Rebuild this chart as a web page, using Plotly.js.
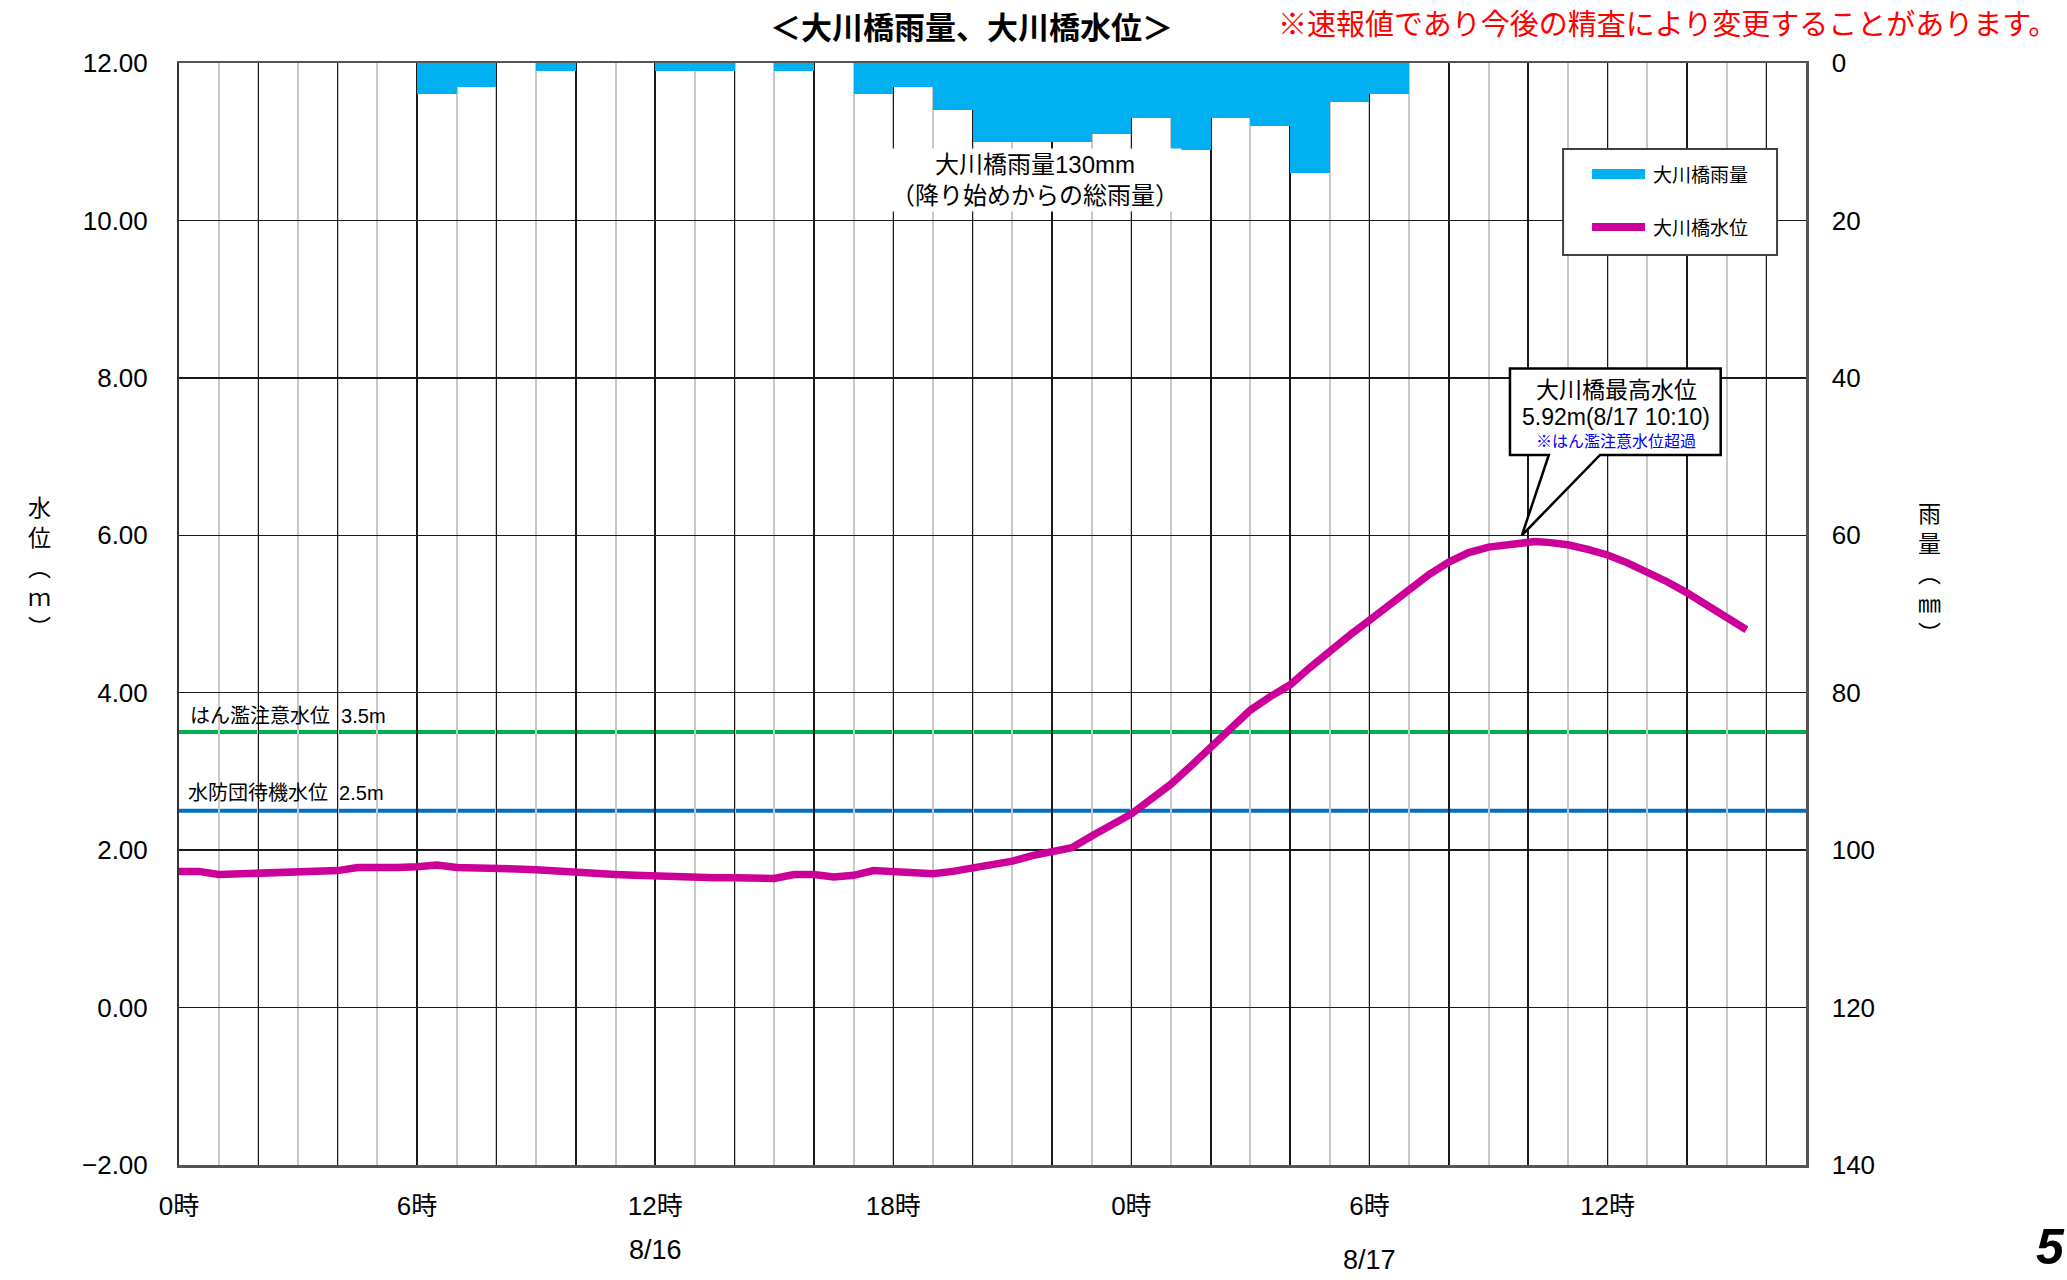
<!DOCTYPE html>
<html>
<head>
<meta charset="utf-8">
<script src="https://cdn.plot.ly/plotly-3.0.1.min.js"></script>
<style>
  html, body { margin: 0; padding: 0; background: #ffffff; }
  #chart { width: 2067px; height: 1280px; }
</style>
</head>
<body>
<div id="chart"></div>
<script>
// ---------- data ----------
// hours counted from 8/16 0:00
const rainHours = [0,1,2,3,4,5,6,7,8,9,10,11,12,13,14,15,16,17,18,19,20,21,22,23,24,25,26,27,28,29,30,31,32,33,34,35,36,37,38,39,40];
const rainValues = [0,0,0,0,0,0,4,3,0,1,0,0,1,1,0,1,0,4,3,6,10,10,10,9,7,11,7,8,14,5,4,0,0,0,0,0,0,0,0,0,0];

const levelHours = [0,0.5,1,1.5,2,2.5,3,3.5,4,4.5,5,5.5,6,6.5,7,7.5,8,8.5,9,9.5,10,10.5,11,11.5,12,12.5,13,13.5,14,14.5,15,15.5,16,16.5,17,17.5,18,18.5,19,19.5,20,20.5,21,21.5,22,22.5,23,23.5,24,24.5,25,25.5,26,26.5,27,27.5,28,28.5,29,29.5,30,30.5,31,31.5,32,32.5,33,33.5,34,34.1667,34.5,35,35.5,36,36.5,37,37.5,38,38.5,39,39.5];
const levelValues = [1.73,1.73,1.69,1.70,1.71,1.72,1.73,1.73,1.74,1.78,1.77,1.78,1.79,1.81,1.78,1.78,1.77,1.76,1.75,1.73,1.71,1.70,1.69,1.68,1.67,1.66,1.64,1.65,1.65,1.64,1.64,1.69,1.69,1.66,1.68,1.74,1.72,1.70,1.70,1.73,1.77,1.81,1.86,1.93,1.97,2.03,2.18,2.31,2.46,2.65,2.84,3.07,3.31,3.56,3.78,3.95,4.10,4.32,4.54,4.73,4.92,5.11,5.30,5.50,5.66,5.78,5.85,5.89,5.92,5.92,5.91,5.88,5.82,5.75,5.65,5.54,5.41,5.27,5.12,4.96,4.80];

const tickHours = [0,6,12,18,24,30,36];
const tickLabels = ['0時','6時','12時','18時','0時','6時','12時'];
const dateLabels = ['8/16','8/17'];
const dateHours = [12,30];

const cautionLevel = 3.5;   // はん濫注意水位
const standbyLevel = 2.5;   // 水防団待機水位
const peakLevel = 5.92;
const peakLabel = '8/17 10:10';
const totalRain = 130;

// ---------- styling ----------
const LATIN = "'Liberation Sans', Arial, 'Noto Sans CJK JP', sans-serif";
const CJK = "'Noto Sans CJK JP', 'Liberation Sans', sans-serif";
const RAIN_COLOR = '#00B0F0';
const LEVEL_COLOR = '#CC0099';

// major gridlines every 2 hours, labels only at tickHours
const gridVals = [];
const gridText = [];
for (let h = 0; h <= 40; h += 2) {
  gridVals.push(h);
  const i = tickHours.indexOf(h);
  gridText.push(i >= 0 ? tickLabels[i] : '');
}

const rainTrace = {
  type: 'bar',
  x: rainHours,
  y: rainValues,
  offset: 0,
  width: 1,
  yaxis: 'y2',
  marker: { color: RAIN_COLOR, line: { width: 0 } },
  showlegend: false,
  hoverinfo: 'skip'
};

const levelTrace = {
  type: 'scatter',
  mode: 'lines',
  x: levelHours,
  y: levelValues,
  line: { color: LEVEL_COLOR, width: 7.5 },
  showlegend: false,
  hoverinfo: 'skip'
};

// callout geometry (data coordinates)
const peakHour = levelHours[levelValues.indexOf(peakLevel)];
const boxL = 33.54, boxR = 38.85, boxT = 8.12, boxB = 7.02;
const wedgeL = 34.52, wedgeR = 35.81;
const tipX = peakHour - 0.16, tipY = peakLevel + 0.08;

const shapes = [
  { type: 'line', xref: 'paper', x0: 0, x1: 1, yref: 'y', y0: cautionLevel, y1: cautionLevel,
    line: { color: '#00B050', width: 4 }, layer: 'between' },
  { type: 'line', xref: 'paper', x0: 0, x1: 1, yref: 'y', y0: standbyLevel, y1: standbyLevel,
    line: { color: '#0070C0', width: 4 }, layer: 'between' },
  { type: 'path', xref: 'x', yref: 'y',
    path: `M ${boxL},${boxT} L ${boxR},${boxT} L ${boxR},${boxB} L ${wedgeR},${boxB} L ${tipX},${tipY} L ${wedgeL},${boxB} L ${boxL},${boxB} Z`,
    fillcolor: '#ffffff', line: { color: '#000000', width: 2.5 }, layer: 'above' },
  // legend box
  { type: 'rect', xref: 'paper', yref: 'paper', x0: 0.8507, x1: 0.9822, y0: 0.8258, y1: 0.9220,
    fillcolor: '#ffffff', line: { color: '#404040', width: 2 }, layer: 'above' },
  { type: 'line', xref: 'paper', yref: 'paper', x0: 0.8685, x1: 0.9011, y0: 0.8993, y1: 0.8993,
    line: { color: RAIN_COLOR, width: 10 }, layer: 'above' },
  { type: 'line', xref: 'paper', yref: 'paper', x0: 0.8685, x1: 0.9011, y0: 0.8512, y1: 0.8512,
    line: { color: LEVEL_COLOR, width: 8 }, layer: 'above' }
];

const annotations = [
  { xref: 'paper', yref: 'paper', x: 0.4868, y: 1.0336, xanchor: 'center', yanchor: 'middle',
    text: '<b>＜大川橋雨量、大川橋水位＞</b>', showarrow: false,
    font: { family: CJK, size: 31, color: '#000000' } },
  { xref: 'paper', yref: 'paper', x: 1.1555, y: 1.0372, xanchor: 'right', yanchor: 'middle',
    text: '※速報値であり今後の精査により変更することがあります。', showarrow: false,
    font: { family: CJK, size: 29, color: '#FF0000' } },
  { xref: 'paper', yref: 'paper', x: -0.0855, y: 0.5436, xanchor: 'center', yanchor: 'middle',
    text: '水<br>位<br>︵<br>ｍ<br>︶', showarrow: false,
    font: { family: CJK, size: 23, color: '#000000' } },
  { xref: 'paper', yref: 'paper', x: 1.0762, y: 0.5381, xanchor: 'center', yanchor: 'middle',
    text: '雨<br>量<br>︵<br>㎜<br>︶', showarrow: false,
    font: { family: CJK, size: 23, color: '#000000' } },
  { xref: 'x', yref: 'paper', x: dateHours[0], y: -0.0771, xanchor: 'center', yanchor: 'middle',
    text: dateLabels[0], showarrow: false, font: { family: LATIN, size: 27, color: '#000000' } },
  { xref: 'x', yref: 'paper', x: dateHours[1], y: -0.0862, xanchor: 'center', yanchor: 'middle',
    text: dateLabels[1], showarrow: false, font: { family: LATIN, size: 27, color: '#000000' } },
  { xref: 'paper', yref: 'paper', x: 1.1604, y: -0.0744, xanchor: 'right', yanchor: 'middle',
    text: '<b><i>5</i></b>', showarrow: false, font: { family: LATIN, size: 50, color: '#000000' } },
  { xref: 'paper', yref: 'paper', x: 0.5262, y: 0.8938, xanchor: 'center', yanchor: 'middle',
    text: '大川橋雨量' + totalRain + 'mm<br>（降り始めからの総雨量）', showarrow: false,
    bgcolor: '#ffffff', borderpad: 2,
    font: { family: LATIN, size: 24, color: '#000000' } },
  { xref: 'x', yref: 'y', x: 0.22, y: 3.70, xanchor: 'left', yanchor: 'middle',
    text: 'はん濫注意水位  ' + cautionLevel + 'm', showarrow: false,
    font: { family: LATIN, size: 20, color: '#000000' } },
  { xref: 'x', yref: 'y', x: 0.17, y: 2.72, xanchor: 'left', yanchor: 'middle',
    text: '水防団待機水位  ' + standbyLevel + 'm', showarrow: false,
    font: { family: LATIN, size: 20, color: '#000000' } },
  { xref: 'x', yref: 'y', x: 36.22, y: 7.87, xanchor: 'center', yanchor: 'middle',
    text: '大川橋最高水位', showarrow: false,
    font: { family: CJK, size: 23, color: '#000000' } },
  { xref: 'x', yref: 'y', x: 36.22, y: 7.50, xanchor: 'center', yanchor: 'middle',
    text: peakLevel.toFixed(2) + 'm(' + peakLabel + ')', showarrow: false,
    font: { family: LATIN, size: 23, color: '#000000' } },
  { xref: 'x', yref: 'y', x: 36.22, y: 7.21, xanchor: 'center', yanchor: 'middle',
    text: '※はん濫注意水位超過', showarrow: false,
    font: { family: CJK, size: 16, color: '#0000FF' } },
  { xref: 'paper', yref: 'paper', x: 0.9047, y: 0.8993, xanchor: 'left', yanchor: 'middle',
    text: '大川橋雨量', showarrow: false, font: { family: CJK, size: 19, color: '#000000' } },
  { xref: 'paper', yref: 'paper', x: 0.9047, y: 0.8512, xanchor: 'left', yanchor: 'middle',
    text: '大川橋水位', showarrow: false, font: { family: CJK, size: 19, color: '#000000' } }
];

const layout = {
  width: 2067,
  height: 1280,
  margin: { l: 179, r: 261, t: 63, b: 115, pad: 0 },
  paper_bgcolor: '#ffffff',
  plot_bgcolor: '#ffffff',
  showlegend: false,
  bargap: 0,
  font: { family: LATIN, size: 26, color: '#000000' },
  xaxis: {
    range: [0, 41],
    tickmode: 'array',
    tickvals: gridVals,
    ticktext: gridText,
    ticks: '',
    ticklabelstandoff: 16,
    showgrid: true,
    gridcolor: '#1a1a1a',
    gridwidth: 1.5,
    minor: { tickmode: 'linear', tick0: 0, dtick: 1, showgrid: true, gridcolor: '#c8c8c8', gridwidth: 2, ticks: '' },
    showline: true,
    linecolor: '#555555',
    linewidth: 2.5,
    mirror: true,
    zeroline: false,
    tickfont: { family: LATIN, size: 26, color: '#000000' },
    fixedrange: true
  },
  yaxis: {
    range: [-2, 12],
    tickmode: 'linear',
    tick0: -2,
    dtick: 2,
    tickformat: '.2f',
    ticks: '',
    ticklabelstandoff: 24,
    showgrid: true,
    gridcolor: '#1a1a1a',
    gridwidth: 1.5,
    showline: true,
    linecolor: '#333333',
    linewidth: 2,
    zeroline: false,
    tickfont: { family: LATIN, size: 26, color: '#000000' },
    fixedrange: true
  },
  yaxis2: {
    overlaying: 'y',
    side: 'right',
    range: [140, 0],
    tickmode: 'linear',
    tick0: 0,
    dtick: 20,
    ticks: '',
    ticklabelstandoff: 18,
    showgrid: false,
    showline: true,
    linecolor: '#555555',
    linewidth: 2.5,
    zeroline: false,
    tickfont: { family: LATIN, size: 26, color: '#000000' },
    fixedrange: true
  },
  shapes: shapes,
  annotations: annotations
};

Plotly.newPlot('chart', [rainTrace, levelTrace], layout, { staticPlot: true, displayModeBar: false });
</script>
</body>
</html>
